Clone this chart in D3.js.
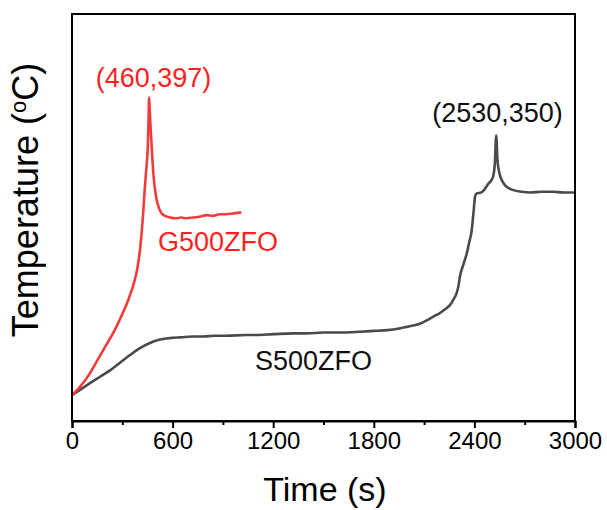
<!DOCTYPE html>
<html>
<head>
<meta charset="utf-8">
<script src="https://cdn.jsdelivr.net/npm/d3@7"></script>
<style>
  html, body { margin: 0; padding: 0; background: #fff; }
  svg { display: block; font-family: "Liberation Sans", Arial, sans-serif; }
</style>
</head>
<body>
<svg id="chart" width="607" height="510"></svg>
<script>
// ---- data ----
const gTime = [0,50,100,150,200,250,300,340,370,390,405,416,425,432,440,447,452,456,460,464,470,477,485,495,505,520,535,555,584,620,650,684,720,760,803,840,883,920,960,1002,1010];
const gTemp = [27,38,52,70,88,106,128,148,167,185,207,230,255,278,300,318,335,365,397,380,355,330,303,283,270,259,253,250,248,247,248,247,248,249,251,250,252,252,253,254,254];

const sTime = [0,50,107,167,227,290,346,400,465,520,584,650,720,783,850,920,1042,1100,1200,1320,1400,1500,1600,1717,1800,1880,1950,1996,2040,2075,2115,2165,2194,2225,2254,2275,2294,2305,2314,2335,2354,2370,2384,2395,2404,2414,2440,2453,2470,2483,2500,2513,2522,2530,2538,2553,2570,2583,2610,2632,2680,2732,2800,2871,2930,2990,3000];
const sTemp = [27,34,42,50,58,68,77,85,92,96,98,99,100,100,101,101,102,102,103,104,104,105,105,106,107,108,110,112,114,116,120,126,129,134,139,146,154,163,175,190,203,218,232,255,274,278,279,281,286,290,294,300,315,350,318,300,292,288,284,282,280,279,280,280,279,279,279];

const xTicks = [0,600,1200,1800,2400,3000];
const xMinor = [300,900,1500,2100,2700];
const labels = [
  {text: "(460,397)", color: "#ff1f1f"},
  {text: "G500ZFO", color: "#ff1f1f"},
  {text: "(2530,350)", color: "#111"},
  {text: "S500ZFO", color: "#111"}
];

// ---- layout ----
const svg = d3.select("#chart");
const L = 72, R = 575, T = 14, B = 421;
const x = d3.scaleLinear().domain([0, 3000]).range([L, R]);
const y = d3.scaleLinear().domain([-5, 501]).range([B, T]);

const line = d3.line().x(d => x(d[0])).y(d => y(d[1])).curve(d3.curveMonotoneX);

const gData = gTime.map((t, i) => [t, gTemp[i]]);
const sData = sTime.map((t, i) => [t, sTemp[i]]);

svg.append("path").datum(sData).attr("d", line)
  .attr("fill", "none").attr("stroke", "#4a4a4a").attr("stroke-width", 2.6).attr("stroke-linejoin", "round");
svg.append("path").datum(gData).attr("d", line)
  .attr("fill", "none").attr("stroke", "#f23c3c").attr("stroke-width", 2.6).attr("stroke-linejoin", "round");

// frame
svg.append("rect").attr("x", L).attr("y", T).attr("width", R - L).attr("height", B - T)
  .attr("fill", "none").attr("stroke", "#000").attr("stroke-width", 2);

// x axis
const xAxis = d3.axisBottom(x).tickValues(xTicks).tickSize(7).tickPadding(4).tickFormat(d3.format("d"));
const gx = svg.append("g").attr("transform", `translate(0,${B})`).call(xAxis);
gx.select(".domain").attr("stroke-width", 2);
gx.selectAll(".tick line").attr("stroke-width", 2);
gx.selectAll(".tick text").attr("font-size", 24).attr("font-family", "Liberation Sans, Arial, sans-serif").attr("fill", "#000");
const xAxisMinor = d3.axisBottom(x).tickValues(xMinor).tickSize(4).tickFormat("");
const gxm = svg.append("g").attr("transform", `translate(0,${B})`).call(xAxisMinor);
gxm.select(".domain").remove();
gxm.selectAll(".tick line").attr("stroke-width", 2);

// axis titles
svg.append("text").attr("x", 325).attr("y", 501).attr("text-anchor", "middle")
  .attr("font-size", 34).attr("fill", "#000").text("Time (s)");
const yt = svg.append("text").attr("transform", "translate(38,200) rotate(-90)").attr("text-anchor", "middle")
  .attr("font-size", 36).attr("fill", "#000");
yt.append("tspan").text("Temperature (");
yt.append("tspan").attr("font-size", 22).attr("dy", -12).text("o");
yt.append("tspan").attr("dy", 12).text("C)");

// annotations
svg.append("text").attr("x", 153.5).attr("y", 87).attr("text-anchor", "middle")
  .attr("font-size", 27).attr("fill", labels[0].color).text(labels[0].text);
svg.append("text").attr("x", 158).attr("y", 251).attr("text-anchor", "start")
  .attr("font-size", 27).attr("fill", labels[1].color).text(labels[1].text);
svg.append("text").attr("x", 497.5).attr("y", 122).attr("text-anchor", "middle")
  .attr("font-size", 27).attr("fill", labels[2].color).text(labels[2].text);
svg.append("text").attr("x", 255).attr("y", 370).attr("text-anchor", "start")
  .attr("font-size", 27).attr("fill", labels[3].color).text(labels[3].text);
</script>
</body>
</html>
